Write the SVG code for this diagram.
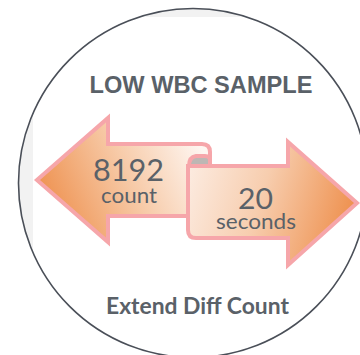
<svg xmlns="http://www.w3.org/2000/svg" width="360" height="355" viewBox="0 0 360 355">
<defs>
<clipPath id="circ"><circle cx="193" cy="183" r="174.5"/></clipPath>
<linearGradient id="gl" gradientUnits="userSpaceOnUse" x1="45" y1="215" x2="200" y2="145">
<stop offset="0" stop-color="#ee8f4c"/><stop offset="0.55" stop-color="#f7cba9"/><stop offset="1" stop-color="#fef6f1"/>
</linearGradient>
<linearGradient id="gr" gradientUnits="userSpaceOnUse" x1="190" y1="165" x2="355" y2="215">
<stop offset="0" stop-color="#fcebe0"/><stop offset="0.45" stop-color="#f7cdae"/><stop offset="1" stop-color="#ee8f4c"/>
</linearGradient>
<style>
.arr{stroke:#f6a6aa;stroke-width:4;stroke-linejoin:miter}
.t{fill:#5a6168;text-anchor:middle}
.lato{font-family:Lato,"Open Sans","Liberation Sans",sans-serif}
</style>
</defs>
<rect width="360" height="355" fill="#ffffff"/>
<g id="badge">
<circle cx="193" cy="183" r="174.5" fill="#f2f2f2"/>
<rect x="33" y="17" width="340" height="350" fill="#ffffff" clip-path="url(#circ)"/>
<circle cx="193" cy="183" r="174.5" fill="none" stroke="#4a4f58" stroke-width="1.6"/>
</g>
<g id="title">
<text class="t" x="201" y="92.5" font-family="'Liberation Sans',Arial,sans-serif" font-weight="bold" font-size="23" textLength="223" lengthAdjust="spacingAndGlyphs">LOW WBC SAMPLE</text>
</g>
<g id="connectors">
<path id="left-arrow" class="arr" fill="url(#gl)" d="M37,180 L108,118 L108,144 L202,144 Q210,144 210,152 L210,216 L108,216 L108,242 Z"/>
<path id="roll" class="arr" fill="#bdb7b4" d="M189,166 Q189,157 196,156 L205,156 Q210,156 210,160 L210,166 Z"/>
<path id="right-arrow" class="arr" fill="url(#gr)" d="M196,238 Q188,238 188,230 L188,166 L288,166 L288,142 L357,203 L288,265 L288,238 Z"/>
</g>
<g id="count">
<text class="t lato" x="128.5" y="180.5" font-size="30" textLength="71" lengthAdjust="spacingAndGlyphs">8192</text>
<text class="t lato" x="129" y="202.5" font-size="22" textLength="56" lengthAdjust="spacingAndGlyphs">count</text>
</g>
<g id="seconds">
<text class="t lato" x="255.5" y="208.5" font-size="29" textLength="35" lengthAdjust="spacingAndGlyphs">20</text>
<text class="t lato" x="256" y="228.5" font-size="22" textLength="80" lengthAdjust="spacingAndGlyphs">seconds</text>
</g>
<g id="footer">
<text class="t lato" x="197.5" y="314" font-size="22" font-weight="bold" textLength="183" lengthAdjust="spacingAndGlyphs">Extend Diff Count</text>
</g>
</svg>
